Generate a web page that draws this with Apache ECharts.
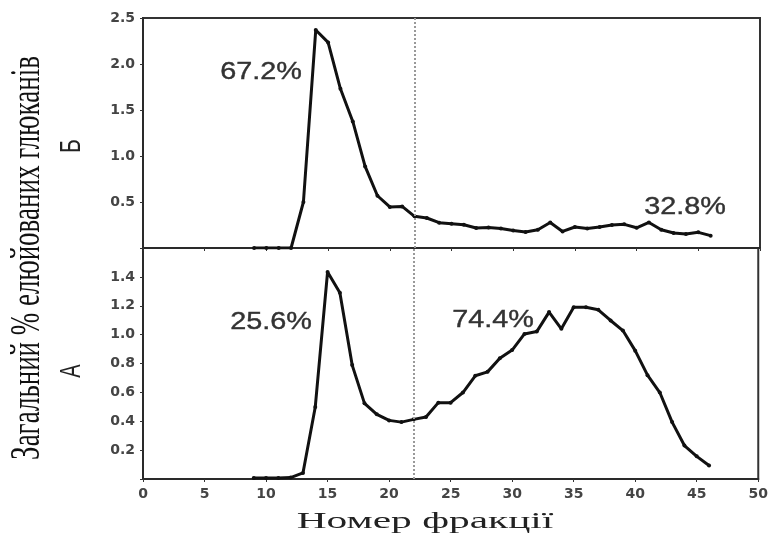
<!DOCTYPE html>
<html><head><meta charset="utf-8">
<script src="https://cdn.jsdelivr.net/npm/echarts@6/dist/echarts.min.js"></script>
<style>html,body{margin:0;padding:0;background:#fff}#c{width:771px;height:535px}</style>
</head><body><div id="c"></div>
<script>
var fractions = [9,10,11,12,13,14,15,16,17,18,19,20,21,22,23,24,25,26,27,28,29,30,31,32,33,34,35,36,37,38,39,40,41,42,43,44,45,46];
var seriesB = [0,0,0,0,0.5,2.37,2.235,1.73,1.376,0.887,0.568,0.446,0.452,0.344,0.326,0.275,0.264,0.253,0.217,0.224,0.213,0.191,0.174,0.199,0.278,0.18,0.228,0.213,0.228,0.25,0.257,0.22,0.278,0.199,0.163,0.152,0.17,0.134];
var seriesA = [0.007,0.007,0.007,0.01,0.042,0.499,1.434,1.29,0.789,0.524,0.448,0.406,0.394,0.413,0.429,0.529,0.529,0.599,0.715,0.742,0.836,0.893,1.005,1.021,1.156,1.04,1.19,1.19,1.172,1.098,1.028,0.889,0.719,0.599,0.394,0.232,0.157,0.093];
var xTicks = [0,5,10,15,20,25,30,35,40,45,50];
var divider = 22;
var pctB = ['67.2%', '32.8%'];
var pctA = ['25.6%', '74.4%'];
var panelNames = ['Б', 'А'];
var xTitle = 'Номер фракції';
var yTitle = 'Загальний % елюйованих глюканів';

function pairs(vals){ return fractions.map(function(f,i){ return [f, vals[i]]; }); }

var axisLineStyle = {color:'#2a2a2a', width:2};
var labelStyle = {color:'#444', fontFamily:'DejaVu Sans', fontWeight:'bold', fontSize:14};

var chart = echarts.init(document.getElementById('c'), null, {renderer:'canvas'});
var markLine = {
  silent:true, symbol:'none', label:{show:false},
  lineStyle:{color:'#999', type:'dotted', width:2},
  data:[{xAxis: divider}]
};
var lineCommon = {
  type:'line', symbol:'circle', symbolSize:4, showSymbol:true,
  itemStyle:{color:'#111'}, lineStyle:{color:'#111', width:3}, animation:false
};
function pctText(t, x, y){
  return {type:'text', x:x, y:y, scaleX:1.2, style:{text:t, font:'24px "Liberation Sans"', fill:'#333', stroke:'#333', lineWidth:0.4, textAlign:'center', textVerticalAlign:'middle'}};
}
chart.setOption({
  animation:false,
  grid:[
    {left:143, right:11, top:18, height:230, show:true, borderColor:'#333', borderWidth:2},
    {left:143, right:11, top:248, height:231, show:true, borderColor:'#333', borderWidth:2}
  ],
  xAxis:[
    {gridIndex:0, type:'value', min:0, max:50, interval:5, axisLine:{lineStyle:axisLineStyle}, axisTick:{show:true, length:3, lineStyle:{color:'#333'}}, axisLabel:{show:false}, splitLine:{show:false}},
    {gridIndex:1, type:'value', min:0, max:50, interval:5, axisLine:{lineStyle:axisLineStyle}, axisTick:{show:true, length:3, lineStyle:{color:'#333'}}, axisLabel:Object.assign({margin:8, customValues:xTicks}, labelStyle), splitLine:{show:false}}
  ],
  yAxis:[
    {gridIndex:0, type:'value', min:0, max:2.5, interval:0.5, axisLine:{show:true, lineStyle:axisLineStyle}, axisTick:{show:true, length:3, lineStyle:{color:'#333'}}, splitLine:{show:false},
     axisLabel:Object.assign({margin:8, formatter:function(v){ return v===0 ? '' : v.toFixed(1); }}, labelStyle)},
    {gridIndex:1, type:'value', min:0, max:1.6, interval:0.2, axisLine:{show:true, lineStyle:axisLineStyle}, axisTick:{show:true, length:3, lineStyle:{color:'#333'}}, splitLine:{show:false},
     axisLabel:Object.assign({margin:8, formatter:function(v){ return (v===0 || v>1.55) ? '' : v.toFixed(1); }}, labelStyle)}
  ],
  series:[
    Object.assign({name:panelNames[0], xAxisIndex:0, yAxisIndex:0, data:pairs(seriesB), markLine:markLine}, lineCommon),
    Object.assign({name:panelNames[1], xAxisIndex:1, yAxisIndex:1, data:pairs(seriesA), markLine:markLine}, lineCommon)
  ],
  graphic:[
    pctText(pctB[0], 261, 72),
    pctText(pctB[1], 685, 207),
    pctText(pctA[0], 271, 322),
    pctText(pctA[1], 493, 320),
    {type:'text', x:72, y:146, rotation:Math.PI/2, scaleY:1.4, style:{text:panelNames[0], font:'21px "Liberation Sans"', fill:'#222', textAlign:'center', textVerticalAlign:'middle'}},
    {type:'text', x:72, y:371, rotation:Math.PI/2, scaleY:1.5, style:{text:panelNames[1], font:'20px "Liberation Sans"', fill:'#222', textAlign:'center', textVerticalAlign:'middle'}},
    {type:'text', x:28, y:258, rotation:Math.PI/2, scaleY:1.6, style:{text:yTitle, font:'27px "Liberation Serif"', fill:'#111', textAlign:'center', textVerticalAlign:'middle'}},
    {type:'text', x:425, y:522, scaleX:1.8, style:{text:xTitle, font:'23px "Liberation Serif"', fill:'#222', textAlign:'center', textVerticalAlign:'middle'}}
  ]
});
</script>
</body></html>
